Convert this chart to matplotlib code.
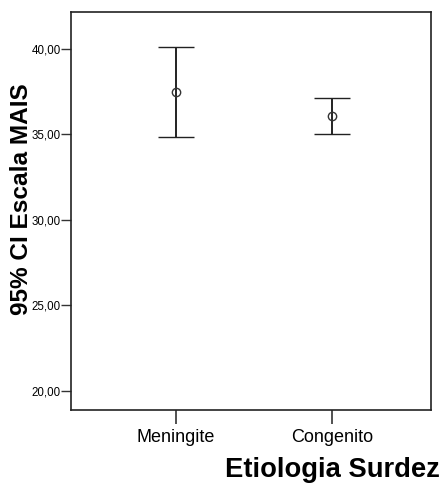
import matplotlib
matplotlib.use("Agg")
import matplotlib.pyplot as plt
import numpy as np

### DATA ###

groups = ["Meningite", "Congenito"]
means = [37.50, 36.08]
lower = [34.87, 35.05]
upper = [40.14, 37.11]
y_ticks = [20, 25, 30, 35, 40]

### PLOT ###

plt.rcParams["font.family"] = ["Liberation Sans", "DejaVu Sans"]

fig = plt.figure(figsize = (4.43, 4.86), dpi = 100)
ax = fig.add_axes([71/443, 1 - 410/486, 360/443, 398/486])

x = np.arange(len(groups))
m = np.array(means)
err = [m - np.array(lower), np.array(upper) - m]

ax.errorbar(x, m, yerr = err, fmt = "o", mfc = "none", mec = "#333333", ms = 6, mew = 1,
            ecolor = "#222222", elinewidth = 1.4, capsize = 13.3, capthick = 1.4)

ax.set_xlim(-0.67, 1.63)
ax.set_ylim(18.87, 42.16)

ax.set_xticks(x)
ax.set_xticklabels(groups, fontsize = 13)
ax.set_yticks(y_ticks)
ax.set_yticklabels([f"{v:.2f}".replace(".", ",") for v in y_ticks], fontsize = 8.3)

ax.tick_params(axis = "x", length = 10, width = 1.2, color = "#333333", pad = 4)
ax.tick_params(axis = "y", length = 7, width = 1, color = "#333333", pad = 0.5)

for s in ax.spines.values():
    s.set_color("#222222")
    s.set_linewidth(1.2)

ax.set_ylabel("95% CI Escala MAIS", fontsize = 17.6, fontweight = "bold")
ax.yaxis.set_label_coords(-0.105, 0.53) # label sits a bit above centre in the original
fig.text(440/443, 1 - 470/486, "Etiologia Surdez", fontsize = 19.7, fontweight = "bold",
         ha = "right", va = "center")

fig.savefig("out.png", dpi = 100)
